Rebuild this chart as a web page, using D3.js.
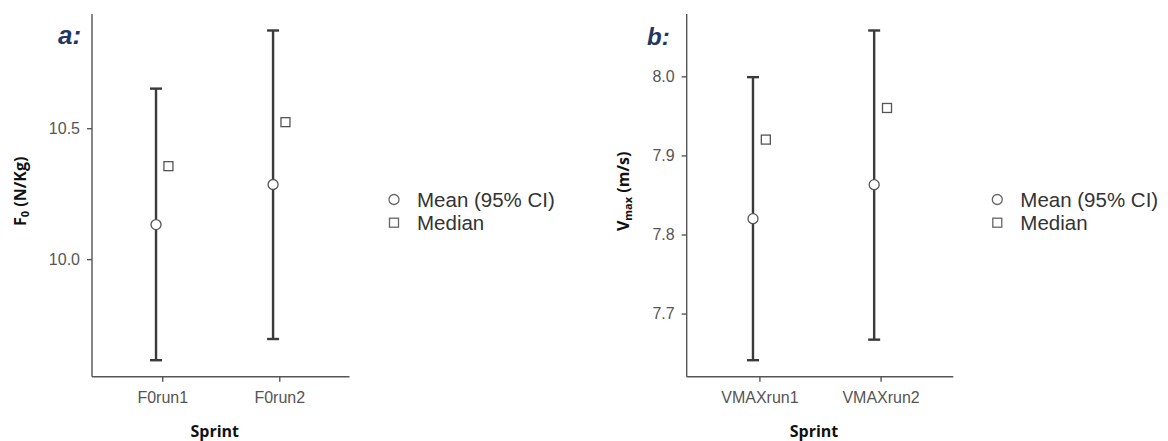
<!DOCTYPE html>
<html>
<head>
<meta charset="utf-8">
<script src="https://cdn.jsdelivr.net/npm/d3@7"></script>
<style>
  html, body { margin: 0; padding: 0; background: #fff; }
  svg { display: block; }
</style>
</head>
<body>
<svg id="chart" width="1168" height="441"></svg>
<script>
// Sprint categories for each outcome
const f0Sprints = ["F0run1", "F0run2"];
const vmaxSprints = ["VMAXrun1", "VMAXrun2"];

// F0 (N/Kg): mean with 95% CI and median
const f0Mean = [10.132, 10.285];
const f0Lower = [9.614, 9.695];
const f0Upper = [10.651, 10.873];
const f0Median = [10.355, 10.523];

// Vmax (m/s): mean with 95% CI and median
const vmaxMean = [7.820, 7.863];
const vmaxLower = [7.641, 7.667];
const vmaxUpper = [7.999, 8.058];
const vmaxMedian = [7.920, 7.960];

// Tick labels
const f0Ticks = [10.0, 10.5];
const vmaxTicks = [7.7, 7.8, 7.9, 8.0];

const legendLabels = ["Mean (95% CI)", "Median"];

const svg = d3.select("#chart");
const tickFont = "'Liberation Sans', Arial, sans-serif";
const titleFont = "'Open Sans', 'Liberation Sans', sans-serif";

function panel(opts) {
  const { x0, x1, y0, y1, cats, mean, lower, upper, median, ticks, tag,
          titleMain, titleSub, titleX, legendX } = opts;
  const g = svg.append("g");

  // data range expanded by 5% on each side
  const lo = d3.min(lower.concat(median)), hi = d3.max(upper.concat(median));
  const pad = (hi - lo) * 0.05;
  const y = d3.scaleLinear().domain([lo - pad, hi + pad]).range([y1, y0]);
  const x = d3.scalePoint().domain(cats).range([x0, x1]).padding(0.6);
  const step = x.step();
  const dodge = 0.053 * step;

  // axes
  const yAxis = d3.axisLeft(y).tickValues(ticks).tickFormat(d3.format(".1f"))
    .tickSize(5).tickPadding(7);
  const xAxis = d3.axisBottom(x).tickSize(5).tickPadding(10);

  const ya = g.append("g").attr("transform", `translate(${x0},0)`).call(yAxis);
  const xa = g.append("g").attr("transform", `translate(0,${y1})`).call(xAxis);
  [ya, xa].forEach(a => {
    a.select(".domain").attr("stroke", "#555").attr("stroke-width", 1.4);
    a.selectAll(".tick line").attr("stroke", "#555").attr("stroke-width", 1.4);
    a.selectAll(".tick text").attr("fill", "#555")
      .style("font-family", tickFont).style("font-size", "16px");
  });
  // straight corner, no end caps beyond the data panel
  ya.select(".domain").attr("d", `M0,${y0}V${y1}`);
  xa.select(".domain").attr("d", `M${x0},0H${x1}`);

  const rows = cats.map((c, i) => ({ c, mean: mean[i], lower: lower[i], upper: upper[i], median: median[i] }));

  // error bars
  const eb = g.selectAll(".eb").data(rows).join("g").attr("class", "eb");
  eb.append("line")
    .attr("x1", d => x(d.c) - dodge).attr("x2", d => x(d.c) - dodge)
    .attr("y1", d => y(d.lower)).attr("y2", d => y(d.upper))
    .attr("stroke", "#3a3a3a").attr("stroke-width", 2.4);
  ["lower", "upper"].forEach(k => {
    eb.append("line")
      .attr("x1", d => x(d.c) - dodge - 6).attr("x2", d => x(d.c) - dodge + 6)
      .attr("y1", d => y(d[k])).attr("y2", d => y(d[k]))
      .attr("stroke", "#3a3a3a").attr("stroke-width", 2.4);
  });
  // means
  g.selectAll(".mean").data(rows).join("circle").attr("class", "mean")
    .attr("cx", d => x(d.c) - dodge).attr("cy", d => y(d.mean)).attr("r", 5)
    .attr("fill", "#fff").attr("stroke", "#555").attr("stroke-width", 1.3);
  // medians
  g.selectAll(".median").data(rows).join("rect").attr("class", "median")
    .attr("x", d => x(d.c) + dodge - 4.5).attr("y", d => y(d.median) - 4.5)
    .attr("width", 9).attr("height", 9)
    .attr("fill", "#fff").attr("stroke", "#555").attr("stroke-width", 1.3);

  // axis titles
  const midY = (y0 + y1) / 2;
  const yt = g.append("text")
    .attr("transform", `translate(${titleX},${midY - 4}) rotate(-90)`)
    .attr("text-anchor", "middle").attr("fill", "#111")
    .style("font-family", titleFont).style("font-weight", 700).style("font-size", "16px");
  yt.append("tspan").text(titleMain);
  yt.append("tspan").attr("font-size", "11px").attr("dy", "3").text(titleSub.sub);
  yt.append("tspan").attr("dy", "-3").text(titleSub.rest);

  g.append("text").attr("x", (x0 + x1) / 2 - 6).attr("y", 437)
    .attr("text-anchor", "middle").attr("fill", "#111")
    .style("font-family", titleFont).style("font-weight", 700).style("font-size", "16px")
    .text("Sprint");

  // panel tag
  g.append("text").attr("x", tag.x).attr("y", tag.y)
    .attr("fill", "#1f3766")
    .style("font-family", tickFont).style("font-weight", 700).style("font-style", "italic")
    .style("font-size", tag.size + "px")
    .text(tag.text);

  // legend
  const lg = g.append("g").attr("transform", `translate(${legendX},0)`);
  lg.append("circle").attr("cx", 0).attr("cy", 199.5).attr("r", 5)
    .attr("fill", "#fff").attr("stroke", "#666").attr("stroke-width", 1.3);
  lg.append("rect").attr("x", -4.5).attr("y", 222.7 - 4.5).attr("width", 9).attr("height", 9)
    .attr("fill", "#fff").attr("stroke", "#666").attr("stroke-width", 1.3);
  lg.selectAll(".lt").data(legendLabels).join("text").attr("class", "lt")
    .attr("x", 23).attr("y", (d, i) => 199.5 + i * 23.2)
    .attr("dy", "0.36em").attr("fill", "#333")
    .style("font-family", tickFont).style("font-size", "20.5px")
    .text(d => d);
}

panel({
  x0: 92, x1: 349.5, y0: 14, y1: 376.7,
  cats: f0Sprints, mean: f0Mean, lower: f0Lower, upper: f0Upper, median: f0Median,
  ticks: f0Ticks, tag: { text: "a:", x: 58, y: 44, size: 26 },
  titleMain: "F", titleSub: { sub: "0", rest: " (N/Kg)" }, titleX: 26, legendX: 394
});

panel({
  x0: 686.7, x1: 953.3, y0: 14, y1: 376.7,
  cats: vmaxSprints, mean: vmaxMean, lower: vmaxLower, upper: vmaxUpper, median: vmaxMedian,
  ticks: vmaxTicks, tag: { text: "b:", x: 647, y: 45, size: 24 },
  titleMain: "V", titleSub: { sub: "max", rest: " (m/s)" }, titleX: 629, legendX: 997.3
});
</script>
</body>
</html>
